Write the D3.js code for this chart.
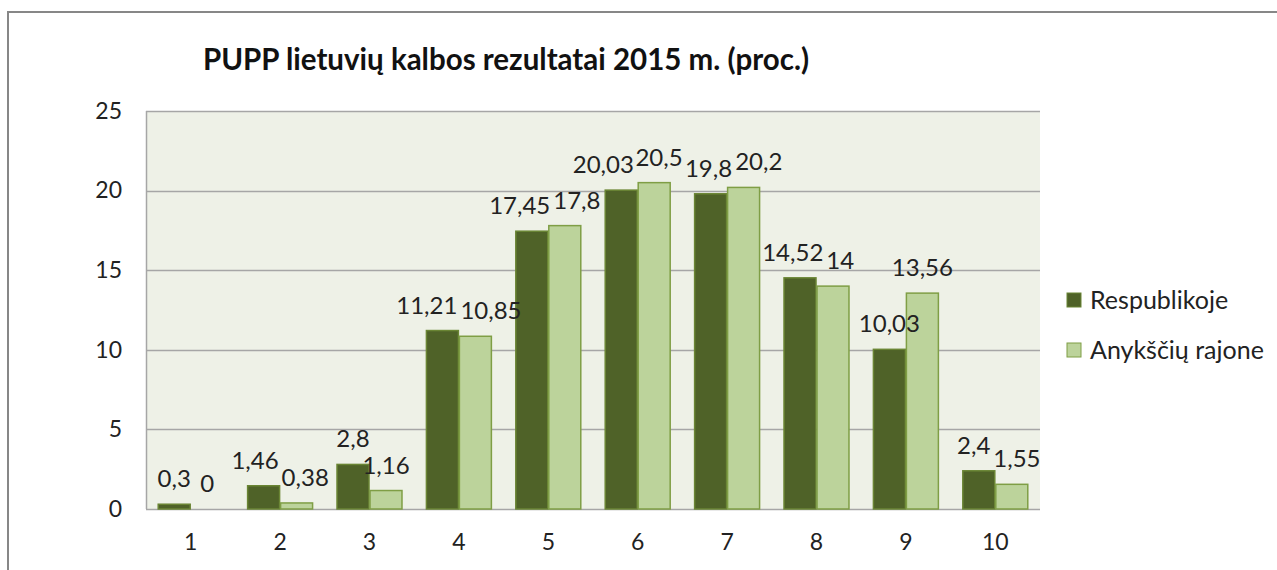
<!DOCTYPE html>
<html>
<head>
<meta charset="utf-8">
<script src="https://cdn.jsdelivr.net/npm/d3@7"></script>
<style>
  body { margin: 0; background: #fff; }
  svg { display: block; font-family: Lato, "Open Sans", sans-serif; }
</style>
</head>
<body>
<svg width="1277" height="570"></svg>
<script>
// data
var categories = ["1", "2", "3", "4", "5", "6", "7", "8", "9", "10"];
var seriesNames = ["Respublikoje", "Anykščių rajone"];
var respublikoje = [0.3, 1.46, 2.8, 11.21, 17.45, 20.03, 19.8, 14.52, 10.03, 2.4];
var anyksciu = [0, 0.38, 1.16, 10.85, 17.8, 20.5, 20.2, 14, 13.56, 1.55];
var yTicks = [0, 5, 10, 15, 20, 25];
var title = "PUPP lietuvių kalbos rezultatai 2015 m. (proc.)";

var colors = ["#4f6228", "#bcd39b"],
    strokes = ["#6a8534", "#7f9e45"];

var svg = d3.select("svg");

// outer chart frame
svg.append("rect")
    .attr("x", 8)
    .attr("y", 12)
    .attr("width", 1300)
    .attr("height", 600)
    .attr("fill", "#fff")
    .attr("stroke", "#878787")
    .attr("stroke-width", 2);

var plotLeft = 146, plotRight = 1040, plotTop = 111, plotBottom = 509;

var x0 = d3.scaleBand()
    .domain(categories)
    .range([plotLeft, plotRight])
    .paddingInner(0.262)
    .paddingOuter(0.131);

var x1 = d3.scaleBand()
    .domain(seriesNames)
    .range([0, x0.bandwidth()]);

var y = d3.scaleLinear()
    .domain([0, 25])
    .range([plotBottom, plotTop]);

// plot background
svg.append("rect")
    .attr("x", plotLeft)
    .attr("y", plotTop)
    .attr("width", plotRight - plotLeft)
    .attr("height", plotBottom - plotTop)
    .attr("fill", "#eef1e7");

// gridlines
svg.append("g")
    .selectAll("line")
    .data(yTicks)
    .enter().append("line")
    .attr("x1", plotLeft)
    .attr("x2", plotRight)
    .attr("y1", d => Math.round(y(d)) + 0.5)
    .attr("y2", d => Math.round(y(d)) + 0.5)
    .attr("stroke", "#a6a6a6")
    .attr("stroke-width", 1.5);

svg.append("line")
    .attr("x1", plotLeft + 0.5)
    .attr("x2", plotLeft + 0.5)
    .attr("y1", plotTop)
    .attr("y2", plotBottom)
    .attr("stroke", "#a6a6a6")
    .attr("stroke-width", 1.5);

// y axis labels
var yAxis = svg.append("g")
    .attr("transform", "translate(" + plotLeft + ",0)")
    .call(d3.axisLeft(y).tickValues(yTicks).tickSize(0).tickPadding(24));
yAxis.select(".domain").remove();
yAxis.selectAll("text")
    .attr("font-family", "Lato, sans-serif")
    .attr("font-size", "23px")
    .attr("fill", "#222");

// x axis labels
var xAxis = svg.append("g")
    .attr("transform", "translate(0," + plotBottom + ")")
    .call(d3.axisBottom(x0).tickSize(0).tickPadding(25));
xAxis.select(".domain").remove();
xAxis.selectAll("text")
    .attr("font-family", "Lato, sans-serif")
    .attr("font-size", "23px")
    .attr("fill", "#222");

var rows = categories.map(function(c, i) {
    return {cat: c, values: [respublikoje[i], anyksciu[i]]};
});

var groups = svg.append("g")
    .selectAll("g")
    .data(rows)
    .enter().append("g")
    .attr("transform", d => "translate(" + x0(d.cat) + ",0)");

groups.selectAll("rect")
    .data(d => d.values.map((v, j) => ({name: seriesNames[j], value: v, j: j})))
    .enter().append("rect")
    .attr("x", d => x1(d.name) + 0.5)
    .attr("y", d => y(d.value))
    .attr("width", x1.bandwidth() - 1)
    .attr("height", d => plotBottom - y(d.value))
    .attr("fill", d => colors[d.j])
    .attr("stroke", d => d.value > 0 ? strokes[d.j] : "none")
    .attr("stroke-width", 1.5);

var fmt = d => String(d).replace(".", ",");

// value labels, left to right
var labelLayer = svg.append("g");
var labels = [];
rows.forEach(function(d) {
    d.values.forEach(function(v, j) {
        var cx = x0(d.cat) + x1(seriesNames[j]) + x1.bandwidth() / 2;
        var t = labelLayer.append("text")
            .attr("x", cx)
            .attr("y", y(v) - 17)
            .attr("text-anchor", "middle")
            .attr("font-size", "24px")
            .attr("fill", "#222")
            .text(fmt(v));
        labels.push({t: t, x: cx, w: t.node().getComputedTextLength(), by: y(v) - 17});
    });
});

// push overlapping neighbours apart
for (var pass = 0; pass < 4; pass++) {
    for (var i = 0; i < labels.length - 1; i++) {
        var a = labels[i], b = labels[i + 1];
        var overlap = (a.x + a.w / 2) - (b.x - b.w / 2) + 3;
        if (overlap > 0 && Math.abs(a.by - b.by) < 18) {
            a.x -= overlap / 2;
            b.x += overlap / 2;
        }
    }
}
labels.forEach(l => l.t.attr("x", l.x));

// title
svg.append("text")
    .attr("x", 506)
    .attr("y", 70)
    .attr("text-anchor", "middle")
    .attr("font-size", "29.5px")
    .attr("font-weight", "bold")
    .attr("fill", "#111")
    .text(title);

// legend
var legend = svg.append("g")
    .selectAll("g")
    .data(seriesNames)
    .enter().append("g")
    .attr("transform", (d, i) => "translate(1067," + (293 + i * 50) + ")");

legend.append("rect")
    .attr("width", 14)
    .attr("height", 14)
    .attr("fill", (d, i) => colors[i])
    .attr("stroke", (d, i) => strokes[i])
    .attr("stroke-width", 1);

legend.append("text")
    .attr("x", 23)
    .attr("y", 16)
    .attr("font-size", "25px")
    .attr("fill", "#222")
    .text(d => d);
</script>
</body>
</html>
